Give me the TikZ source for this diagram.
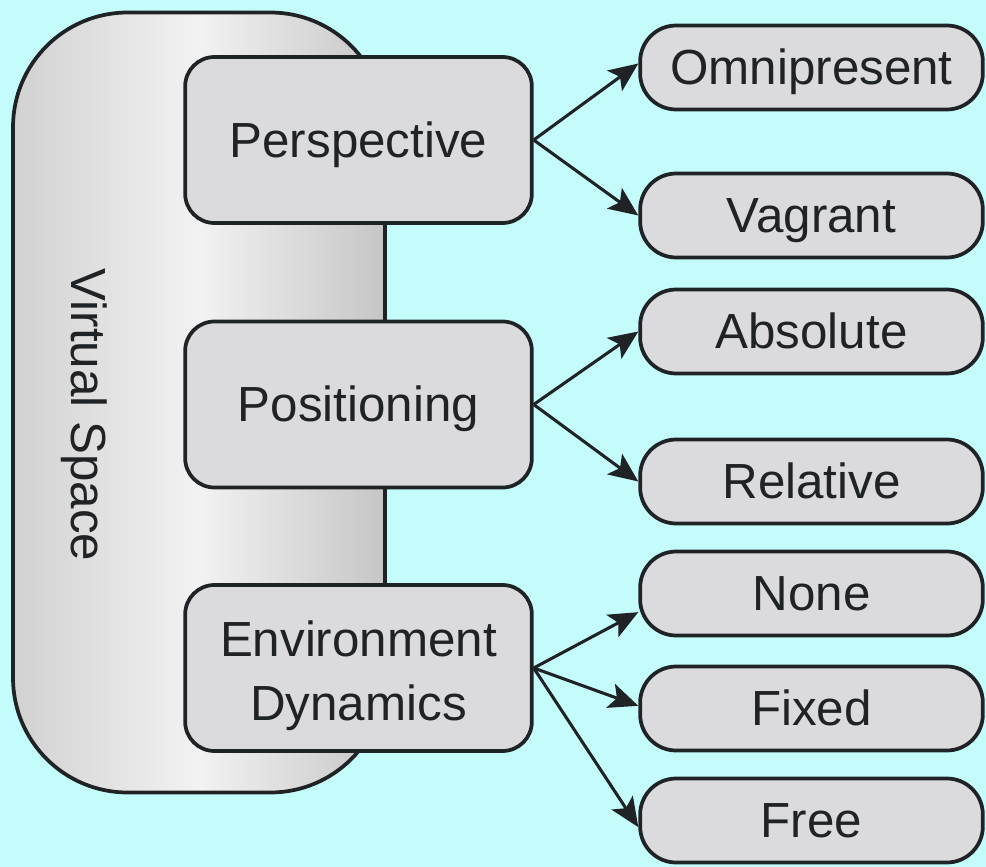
\documentclass[tikz,border=0pt]{standalone}
\usepackage{fontspec}
\setmainfont{Liberation Sans}
\usetikzlibrary{arrows.meta}
\definecolor{bgcyan}{HTML}{C4FCFC}
\definecolor{boxgray}{HTML}{DBDBDE}
\definecolor{inkdark}{HTML}{202326}
\tikzset{
  labeltext/.style={text=inkdark, font=\fontsize{37}{44}\selectfont,
    text height=27pt, text depth=1pt},
  catbox/.style={labeltext, draw=inkdark, line width=2.8pt, fill=boxgray, rounded corners=22pt,
    minimum width=260pt, minimum height=124.5pt, align=center, inner sep=0pt},
  leafbox/.style={labeltext, draw=inkdark, line width=2.8pt, fill=boxgray, rounded corners=27pt,
    minimum width=257pt, minimum height=63pt, inner sep=0pt},
  arr/.style={draw=inkdark, line width=2.3pt,
    -{Stealth[length=22pt, width=19pt, inset=5pt]}}
}
\begin{document}
\begin{tikzpicture}[x=0.75pt, y=-0.75pt]
  % canvas
  \fill[bgcyan] (0,0) rectangle (986,867);
  \useasboundingbox (0,0) rectangle (986,867);

  % outer container, shaded from left to right
  \node[draw=inkdark, line width=2.8pt, rounded corners=86pt,
        minimum width=279pt, minimum height=585pt, inner sep=0pt,
        left color=gray!36!white, right color=gray!45!white, middle color=gray!10!white]
        (vs) at (199,402.5) {};
  \node[rotate=-90, text=inkdark, font=\fontsize{37}{44}\selectfont] (vslabel) at (84,415) {Virtual Space};

  % categories
  \node[catbox] (persp) at (358.5,140) {Perspective};
  \node[catbox] (posit) at (358.5,404.5) {Positioning};
  \node[catbox, text height=78pt, text depth=0pt] (envdyn) at (358.5,668) {Environment\\[4pt]Dynamics};

  % options
  \node[leafbox] (omni) at (811.5,67.5) {Omnipresent};
  \node[leafbox] (vagr) at (811.5,215.5) {Vagrant};
  \node[leafbox] (absol) at (811.5,331.5) {Absolute};
  \node[leafbox] (relat) at (811.5,481.5) {Relative};
  \node[leafbox] (none) at (811.5,593.5) {None};
  \node[leafbox] (fixed) at (811.5,708.5) {Fixed};
  \node[leafbox] (free) at (811.5,820.5) {Free};

  % links
  \draw[arr] (persp.east) -- ([yshift=3pt]omni.west);
  \draw[arr] (persp.east) -- (vagr.west);
  \draw[arr] (posit.east) -- (absol.west);
  \draw[arr] (posit.east) -- (relat.west);
  \draw[arr] (envdyn.east) -- ([yshift=-14pt]none.west);
  \draw[arr] (envdyn.east) -- ([yshift=2pt]fixed.west);
  \draw[arr] (envdyn.east) -- ([yshift=-5pt]free.west);
\end{tikzpicture}
\end{document}
